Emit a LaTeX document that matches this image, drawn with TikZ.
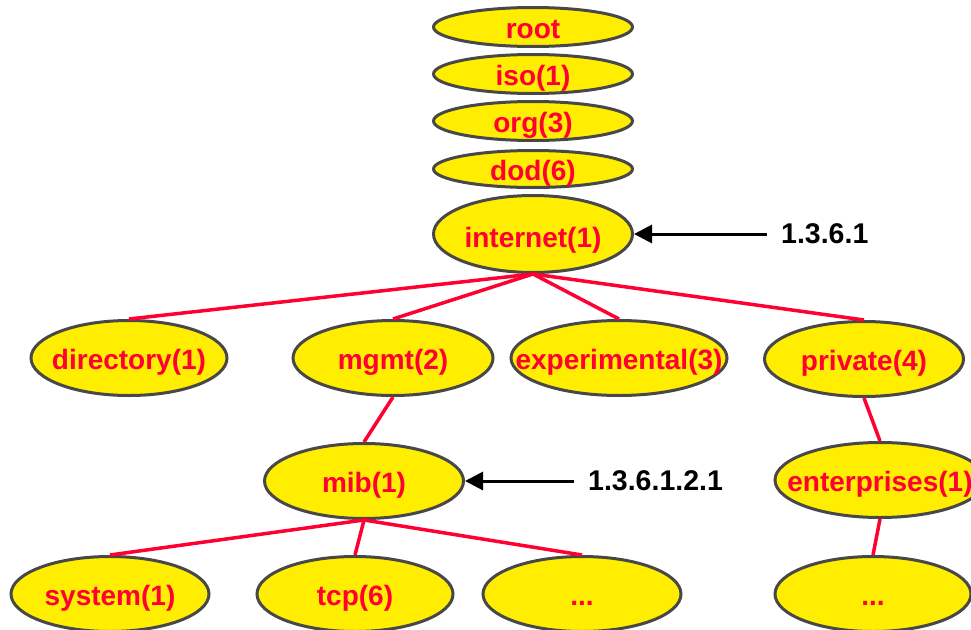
\documentclass[tikz,border=0pt]{standalone}
\usepackage{fontspec}
\setmainfont{Liberation Sans}
\usetikzlibrary{shapes.geometric,arrows.meta}

\definecolor{oidyellow}{RGB}{255,238,0}
\definecolor{oidred}{RGB}{255,0,51}
\definecolor{oidedge}{RGB}{72,72,72}

% text placed with its baseline #1 below the node centre, taking no room
\newcommand\oidtext[2][11pt]{\raisebox{-#1}[0pt][0pt]{\makebox[0pt]{#2}}}

\tikzset{
  oid/.style={ellipse, draw=oidedge, line width=3pt, fill=oidyellow,
    inner sep=0pt, minimum width=199pt, minimum height=75pt,
    text=oidred, font=\fontsize{28}{32}\bfseries\selectfont},
  flat/.style={oid, minimum height=39pt},
  branch/.style={draw=oidred, line width=3.5pt},
  pointer/.style={draw=black, line width=3pt, -{Triangle[length=18pt,width=18pt]}},
  oidlabel/.style={inner xsep=14pt, inner ysep=0pt, font=\fontsize{28.5}{32}\bfseries\selectfont}
}

\begin{document}
\begin{tikzpicture}[x=1pt,y=-1pt]
  \useasboundingbox (0,0) rectangle (971,629);
  \clip (0,0) rectangle (971,629);

  % stacked path down to internet
  \node[flat] (root) at (533,27)  {\oidtext{root}};
  \node[flat] (iso)  at (533,74)  {\oidtext{iso(1)}};
  \node[flat] (org)  at (533,121) {\oidtext{org(3)}};
  \node[flat, minimum height=37pt] (dod) at (533,169) {\oidtext{dod(6)}};
  \node[oid, minimum height=77pt] (inet) at (533,234) {\oidtext[13pt]{internet(1)}};

  % children of internet
  \node[oid, minimum width=196pt] (dir)  at (129,358) {\oidtext{directory(1)}};
  \node[oid, minimum width=200pt] (mgmt) at (393,358) {\oidtext{mgmt(2)}};
  \node[oid, minimum width=216pt] (exp)  at (619,358) {\oidtext{experimental(3)}};
  \node[oid] (priv) at (864,359) {\oidtext{private(4)}};

  % next level
  \node[oid] (mib) at (364,481) {\oidtext{mib(1)}};
  \node[oid, minimum width=210pt] (ent) at (880,480) {\oidtext{enterprises(1)}};

  % leaves
  \node[oid, minimum width=198pt] (sys)   at (110,594) {\oidtext{system(1)}};
  \node[oid, minimum width=196pt] (tcp)   at (355,594) {\oidtext{tcp(6)}};
  \node[oid, minimum width=198pt] (more)  at (582,594) {\oidtext{...}};
  \node[oid, minimum width=196pt] (emore) at (873,594) {\oidtext{...}};

  % tree branches
  \draw[branch] (inet.south) -- (dir.north);
  \draw[branch] (inet.south) -- (mgmt.north);
  \draw[branch] (inet.south) -- (exp.north);
  \draw[branch] (inet.south) -- (priv.north);
  \draw[branch] (mgmt.south) -- (mib.north);
  \draw[branch] (priv.south) -- (ent.north);
  \draw[branch] (mib.south) -- (sys.north);
  \draw[branch] (mib.south) -- (tcp.north);
  \draw[branch] (mib.south) -- (more.north);
  \draw[branch] (ent.south) -- (emore.north);

  % object identifiers
  \node[oidlabel, anchor=west] (inetoid) at (767,234) {1.3.6.1};
  \node[oidlabel, anchor=west] (miboid)  at (574,481) {1.3.6.1.2.1};
  \draw[pointer] (inetoid.west) -- (inet.east);
  \draw[pointer] (miboid.west) -- (mib.east);
\end{tikzpicture}
\end{document}
